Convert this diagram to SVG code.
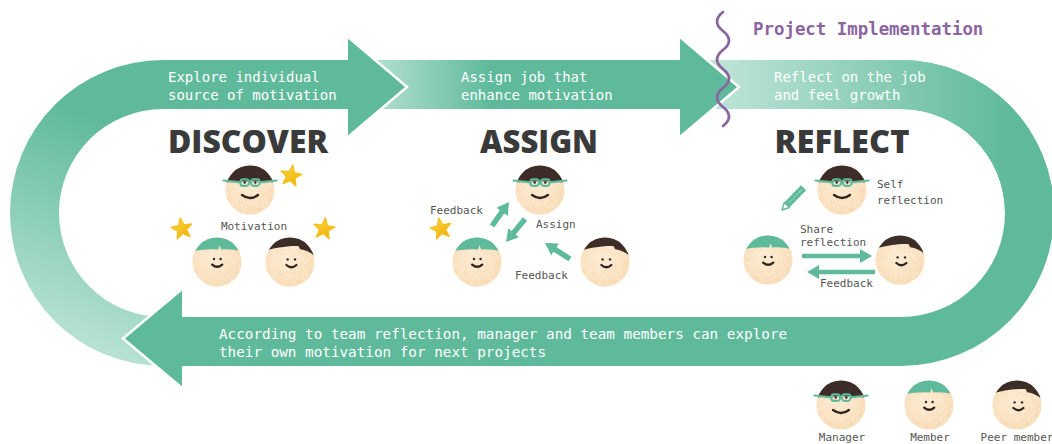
<svg xmlns="http://www.w3.org/2000/svg" xmlns:xlink="http://www.w3.org/1999/xlink" width="1052" height="444" viewBox="0 0 1052 444">
  <style>
    .band { fill: #5fba9b; }
    .cut { fill: none; stroke: #ffffff; stroke-width: 2.5; stroke-linejoin: miter; }
    .bandtxt { font-family: "DejaVu Sans Mono", "Liberation Mono", monospace; font-size: 14px; fill: #ffffff; }
    .title { font-family: "Open Sans", "Noto Sans", "Liberation Sans", sans-serif; font-weight: 800; font-size: 31px; fill: #3a3a3a; }
    .lbl { font-family: "DejaVu Sans Mono", "Liberation Mono", monospace; font-size: 11px; fill: #555555; }
    .phase { font-family: "DejaVu Sans Mono", "Liberation Mono", monospace; font-size: 17.4px; font-weight: bold; fill: #8b65a0; }
    .skin { fill: url(#skin); }
    .smile { fill: none; stroke: #2e2420; stroke-width: 2.3; stroke-linecap: round; }
    .eye { fill: #2e2420; }
    .glass { fill: none; stroke: #5fba9b; stroke-width: 2.2; stroke-linecap: round; }
    .flow { stroke: #5fba9b; stroke-width: 5.5; fill: none; marker-end: url(#head); }
    .flow-thin { stroke: #5fba9b; stroke-width: 4.5; fill: none; marker-end: url(#head); }
  </style>
  <defs>
    <linearGradient id="gLeft" gradientUnits="userSpaceOnUse" x1="175" y1="150" x2="95" y2="360">
      <stop offset="0" stop-color="#5fba9b"/>
      <stop offset="1" stop-color="#bce4d6"/>
    </linearGradient>
    <linearGradient id="gMid" gradientUnits="userSpaceOnUse" x1="372" y1="0" x2="490" y2="0">
      <stop offset="0" stop-color="#b6e0d1"/>
      <stop offset="1" stop-color="#5fba9b"/>
    </linearGradient>
    <linearGradient id="gRight" gradientUnits="userSpaceOnUse" x1="705" y1="0" x2="1010" y2="0">
      <stop offset="0" stop-color="#c2e6d9"/>
      <stop offset="1" stop-color="#5fba9b"/>
    </linearGradient>
    <radialGradient id="skin" cx="0.45" cy="0.42" r="0.62">
      <stop offset="0" stop-color="#fdecd3"/>
      <stop offset="1" stop-color="#f8dab2"/>
    </radialGradient>
    <linearGradient id="starFill" x1="0" y1="0" x2="0.6" y2="1">
      <stop offset="0" stop-color="#ffdc40"/>
      <stop offset="1" stop-color="#efb112"/>
    </linearGradient>
    <!-- speckled paper texture for the faces -->
    <filter id="grain" x="-5%" y="-5%" width="110%" height="110%">
      <feTurbulence type="fractalNoise" baseFrequency="0.9" numOctaves="2" seed="7" result="noise"/>
      <feColorMatrix in="noise" type="matrix" values="0 0 0 0 0.96  0 0 0 0 0.76  0 0 0 0 0.54  3 0 0 0 -1.45" result="dark"/>
      <feColorMatrix in="noise" type="matrix" values="0 0 0 0 1  0 0 0 0 0.98  0 0 0 0 0.94  0 -3 0 0 1.3" result="light"/>
      <feComposite in="dark" in2="SourceGraphic" operator="in" result="darkIn"/>
      <feComposite in="light" in2="SourceGraphic" operator="in" result="lightIn"/>
      <feMerge><feMergeNode in="SourceGraphic"/><feMergeNode in="darkIn"/><feMergeNode in="lightIn"/></feMerge>
    </filter>
    <clipPath id="faceClip"><circle r="24.5"/></clipPath>
    <marker id="head" markerUnits="userSpaceOnUse" viewBox="0 0 12 14" markerWidth="12" markerHeight="14" refX="2" refY="7" orient="auto">
      <path d="M0,0 L12,7 L0,14 Z" fill="#5fba9b"/>
    </marker>
    <path id="star" d="M0,-11 L2.7,-3.72 L10.46,-3.4 L4.38,1.42 L6.47,8.9 L0,4.6 L-6.47,8.9 L-4.38,1.42 L-10.46,-3.4 L-2.7,-3.72 Z" fill="url(#starFill)" stroke="#f4c020" stroke-width="1.4" stroke-linejoin="round"/>

    <!-- manager: dark hair, green glasses -->
    <g id="manager">
      <circle r="24.5" class="skin" filter="url(#grain)"/>
      <path clip-path="url(#faceClip)" d="M-26,-7.5 Q0,-10 26,-7.5 L26,-27 L-26,-27 Z" fill="#3d2d28"/>
      <path class="glass" d="M-26.5,-9.5 L-9.5,-7.6 M9.5,-7.6 L26.5,-9.5"/>
      <rect class="glass" x="-9.5" y="-10.6" width="8.4" height="6.4" rx="2.4" fill="#fbe6c9"/>
      <rect class="glass" x="1.1" y="-10.6" width="8.4" height="6.4" rx="2.4" fill="#fbe6c9"/>
      <circle class="eye" cx="-5.3" cy="-7.4" r="1.25"/>
      <circle class="eye" cx="5.3" cy="-7.4" r="1.25"/>
      <path class="smile" d="M-8,5 Q0,11 8,5"/>
    </g>
    <!-- member: green cap of hair -->
    <g id="member">
      <circle r="24.5" class="skin" filter="url(#grain)"/>
      <path clip-path="url(#faceClip)" d="M-26,-10.5 Q-12,-13.5 1.2,-12.6 L2.6,-17 L4,-12.6 Q15,-13.2 26,-10.5 L26,-27 L-26,-27 Z" fill="#5fba9b"/>
      <circle class="eye" cx="-3" cy="-3" r="1.2"/>
      <circle class="eye" cx="3.6" cy="-3" r="1.2"/>
      <path class="smile" d="M-4.8,2.6 Q0.3,7 5.2,2.6"/>
    </g>
    <!-- peer member: dark hair with side part -->
    <g id="peer">
      <circle r="24.5" class="skin" filter="url(#grain)"/>
      <path clip-path="url(#faceClip)" d="M-26,-11 C-15,-14.5 0,-16.5 8.5,-16 L10.2,-12.8 C16,-12.2 21,-9.5 26,-5 L26,-27 L-26,-27 Z" fill="#3d2d28"/>
      <circle class="eye" cx="-2.4" cy="-2.6" r="1.2"/>
      <circle class="eye" cx="5" cy="-2.6" r="1.2"/>
      <path class="smile" d="M-3.6,3 Q1.4,7.4 6.4,3"/>
    </g>
  </defs>

  <rect width="1052" height="444" fill="#ffffff"/>

  <!-- the cycle: three stage bands joined into a loop -->
  <g id="cycle">
    <path d="M348,60 L163,60 A153,153 0 0 0 163,366 L175,366 L175,317 L163,317 A104,104 0 0 1 163,109 L348,109 Z" fill="url(#gLeft)"/>
    <rect x="370" y="60" width="312" height="49" fill="url(#gMid)"/>
    <path class="band" d="M901,60 A153,153 0 0 1 901,366 L175,366 L175,317 L901,317 A104,104 0 0 0 901,109 Z"/>
    <path d="M703,60 L901,60 A153,153 0 0 1 1054,213 L1005,213 A104,104 0 0 0 901,109 L703,109 Z" fill="url(#gRight)"/>
    <polygon class="band" points="348,37 407,87 348,137"/>
    <polyline class="cut" points="348,37 407,87 348,137"/>
    <polygon class="band" points="680,37 739,87 680,137"/>
    <polyline class="cut" points="680,37 739,87 680,137"/>
    <polygon class="band" points="182,289 123,338.5 182,388"/>
    <polyline class="cut" points="182,289 123,338.5 182,388"/>
  </g>

  <g id="band-texts">
    <text class="bandtxt" x="168" y="82">Explore individual</text>
    <text class="bandtxt" x="168" y="100">source of motivation</text>
    <text class="bandtxt" x="461" y="82">Assign job that</text>
    <text class="bandtxt" x="461" y="100">enhance motivation</text>
    <text class="bandtxt" x="774" y="82">Reflect on the job</text>
    <text class="bandtxt" x="774" y="100">and feel growth</text>
    <text class="bandtxt" x="219" y="339" style="font-size:14.3px">According to team reflection, manager and team members can explore</text>
    <text class="bandtxt" x="219" y="357" style="font-size:14.3px">their own motivation for next projects</text>
  </g>

  <!-- boundary of the project implementation phase -->
  <g id="phase-marker">
    <path d="M723,12 q-12,9.5 0,19 t0,19 t0,19 t0,19 t0,19 t0,19" fill="none" stroke="#8b65a0" stroke-width="2.8" stroke-linecap="round"/>
    <text class="phase" x="753" y="35">Project Implementation</text>
  </g>

  <g id="discover">
    <text class="title" x="248" y="153" text-anchor="middle" textLength="160" lengthAdjust="spacingAndGlyphs">DISCOVER</text>
    <use xlink:href="#manager" href="#manager" transform="translate(250,190)"/>
    <use xlink:href="#member" href="#member" transform="translate(217,262)"/>
    <use xlink:href="#peer" href="#peer" transform="translate(290,262)"/>
    <use xlink:href="#star" href="#star" transform="translate(291,176) rotate(10)"/>
    <use xlink:href="#star" href="#star" transform="translate(182,229) rotate(-10)"/>
    <use xlink:href="#star" href="#star" transform="translate(324,229) rotate(8)"/>
    <text class="lbl" x="254" y="230" text-anchor="middle">Motivation</text>
  </g>

  <g id="assign">
    <text class="title" x="539" y="153" text-anchor="middle" textLength="118" lengthAdjust="spacingAndGlyphs">ASSIGN</text>
    <use xlink:href="#manager" href="#manager" transform="translate(540,190)"/>
    <use xlink:href="#member" href="#member" transform="translate(477,262)"/>
    <use xlink:href="#peer" href="#peer" transform="translate(605,262)"/>
    <use xlink:href="#star" href="#star" transform="translate(441,229) rotate(-12)"/>
    <text class="lbl" x="430" y="214">Feedback</text>
    <text class="lbl" x="536" y="228">Assign</text>
    <text class="lbl" x="515" y="279">Feedback</text>
  </g>

  <g id="reflect">
    <text class="title" x="842" y="153" text-anchor="middle" textLength="135" lengthAdjust="spacingAndGlyphs">REFLECT</text>
    <use xlink:href="#manager" href="#manager" transform="translate(842,190)"/>
    <use xlink:href="#member" href="#member" transform="translate(768,260)"/>
    <use xlink:href="#peer" href="#peer" transform="translate(900,260)"/>
    <!-- pencil -->
    <g transform="translate(782,210) rotate(-46)">
      <polygon points="0,0 7,-3.6 7,3.6" fill="#ffffff" stroke="#5fba9b" stroke-width="1.4" stroke-linejoin="round"/>
      <rect x="7" y="-3.6" width="24" height="7.2" fill="#5fba9b"/>
      <line x1="9" y1="0" x2="29" y2="0" stroke="#8fd0b8" stroke-width="1"/>
    </g>
    <text class="lbl" x="877" y="188">Self</text>
    <text class="lbl" x="877" y="204">reflection</text>
    <text class="lbl" x="800" y="233">Share</text>
    <text class="lbl" x="800" y="246">reflection</text>
    <text class="lbl" x="820" y="287">Feedback</text>
  </g>

  <!-- small flow arrows between people -->
  <g id="connectors">
    <line class="flow" x1="492" y1="226" x2="503.2" y2="210.2"/>
    <line class="flow" x1="525" y1="219" x2="512.4" y2="234.3"/>
    <line class="flow" x1="570" y1="259" x2="553.4" y2="248.4"/>
    <line class="flow-thin" x1="802" y1="256" x2="862" y2="256"/>
    <line class="flow-thin" x1="875" y1="272" x2="817" y2="272"/>
  </g>

  <g id="legend">
    <use xlink:href="#manager" href="#manager" transform="translate(841,405)"/>
    <use xlink:href="#member" href="#member" transform="translate(929,405)"/>
    <use xlink:href="#peer" href="#peer" transform="translate(1017,405)"/>
    <text class="lbl" x="842" y="441" text-anchor="middle">Manager</text>
    <text class="lbl" x="930" y="441" text-anchor="middle">Member</text>
    <text class="lbl" x="1017" y="441" text-anchor="middle">Peer member</text>
  </g>
</svg>
